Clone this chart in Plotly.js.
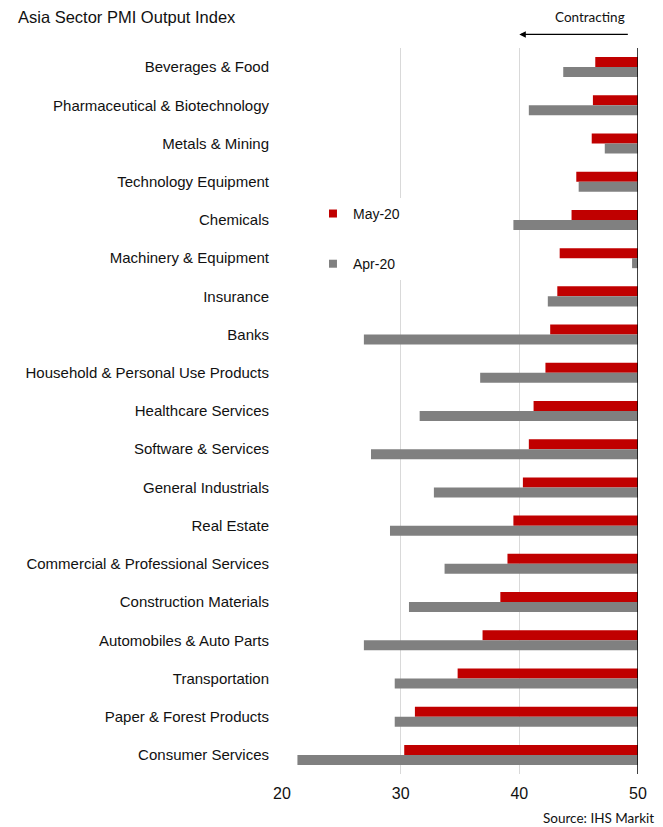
<!DOCTYPE html>
<html>
<head>
<meta charset="utf-8">
<script src="https://cdn.plot.ly/plotly-3.0.1.min.js"></script>
<style>
  html, body { margin: 0; padding: 0; background: #fff; }
  #chart { width: 663px; height: 827px; }
</style>
</head>
<body>
<div id="chart"></div>
<script>
// Sector names, top to bottom
const sectors = [
  "Beverages & Food",
  "Pharmaceutical & Biotechnology",
  "Metals & Mining",
  "Technology Equipment",
  "Chemicals",
  "Machinery & Equipment",
  "Insurance",
  "Banks",
  "Household & Personal Use Products",
  "Healthcare Services",
  "Software & Services",
  "General Industrials",
  "Real Estate",
  "Commercial & Professional Services",
  "Construction Materials",
  "Automobiles & Auto Parts",
  "Transportation",
  "Paper & Forest Products",
  "Consumer Services"
];

// PMI output index readings
const may20 = [46.4, 46.2, 46.1, 44.8, 44.4, 43.4, 43.2, 42.6, 42.2, 41.2,
               40.8, 40.3, 39.5, 39.0, 38.4, 36.9, 34.8, 31.2, 30.3];
const apr20 = [43.7, 40.8, 47.2, 45.0, 39.5, 49.5, 42.4, 26.9, 36.7, 31.6,
               27.5, 32.8, 29.1, 33.7, 30.7, 26.9, 29.5, 29.5, 21.3];

const xTicks = [20, 30, 40, 50];
const NEUTRAL = 50;   // bars grow leftward from the 50 no-change mark

const RED = "#C00000";
const GREY = "#808080";
const LABEL_FONT = "Liberation Sans, Arial, sans-serif";
const NOTE_FONT = "Lato, Open Sans, sans-serif";

function barTrace(name, values, color) {
  return {
    type: "bar",
    orientation: "h",
    name: name,
    y: sectors,
    x: values.map(v => v - NEUTRAL),
    base: NEUTRAL,
    marker: { color: color, line: { width: 0 } },
    showlegend: false,
    hovertemplate: "%{y}: %{customdata}<extra>" + name + "</extra>",
    customdata: values
  };
}

// small square keys for the legend
function keyTrace(name, color) {
  return {
    type: "scatter",
    mode: "markers",
    name: name,
    x: [null], y: [null],
    legendgroup: name,
    marker: { symbol: "square", size: 8, color: color },
    showlegend: true,
    hoverinfo: "skip"
  };
}

const data = [
  barTrace("May-20", may20, RED),
  barTrace("Apr-20", apr20, GREY),
  keyTrace("May-20", RED),
  keyTrace("Apr-20", GREY)
];

const layout = {
  width: 663,
  height: 827,
  margin: { l: 282, r: 25, t: 48, b: 53, pad: 0 },
  paper_bgcolor: "#ffffff",
  plot_bgcolor: "#ffffff",
  barmode: "group",
  bargap: 0.476,
  bargroupgap: 0,
  title: {
    text: "Asia Sector PMI Output Index",
    font: { family: LABEL_FONT, size: 16.5, color: "#111" },
    xref: "container", yref: "container",
    x: 18 / 663, xanchor: "left",
    y: 1 - 17 / 827, yanchor: "middle"
  },
  xaxis: {
    range: [20, 50],
    tickvals: xTicks,
    ticktext: xTicks.map(String),
    showgrid: true,
    gridcolor: "#d9d9d9",
    gridwidth: 1.5,
    zeroline: false,
    showline: false,
    ticks: "",
    ticklabelstandoff: 8,
    tickfont: { family: LABEL_FONT, size: 16, color: "#111" },
    fixedrange: true
  },
  yaxis: {
    type: "category",
    categoryorder: "array",
    categoryarray: sectors,
    autorange: "reversed",
    showgrid: false,
    zeroline: false,
    showline: false,
    ticks: "",
    ticklabelstandoff: 12,
    tickfont: { family: LABEL_FONT, size: 15, color: "#111" },
    fixedrange: true
  },
  legend: {
    x: 0.087, xanchor: "left",
    y: 0.7935, yanchor: "top",
    bgcolor: "#ffffff",
    borderwidth: 0,
    traceorder: "grouped",
    tracegroupgap: 29,
    font: { family: LABEL_FONT, size: 14, color: "#111" }
  },
  shapes: [
    {
      type: "line", xref: "x", yref: "paper",
      x0: NEUTRAL, x1: NEUTRAL, y0: 0, y1: 1,
      line: { color: "#000", width: 1.5 }
    }
  ],
  annotations: [
    {
      text: "Contracting",
      xref: "paper", yref: "paper",
      x: (590 - 282) / 356, y: (774.6 - 18) / 726,
      xanchor: "center", yanchor: "middle",
      showarrow: false,
      font: { family: NOTE_FONT, size: 13.5, color: "#111" }
    },
    {
      text: "",
      xref: "x", yref: "paper",
      x: 40, y: (774.6 - 35) / 726,
      ax: 110, ay: 0, axref: "pixel", ayref: "pixel",
      showarrow: true,
      arrowhead: 2, arrowsize: 1, arrowwidth: 1.3, arrowcolor: "#000"
    },
    {
      text: "Source: IHS Markit",
      xref: "paper", yref: "paper",
      x: (656 - 282) / 356, y: (774.6 - 819) / 726,
      xanchor: "right", yanchor: "middle",
      showarrow: false,
      font: { family: NOTE_FONT, size: 13.5, color: "#111" }
    }
  ]
};

Plotly.newPlot("chart", data, layout, { displayModeBar: false, staticPlot: true });
</script>
</body>
</html>
